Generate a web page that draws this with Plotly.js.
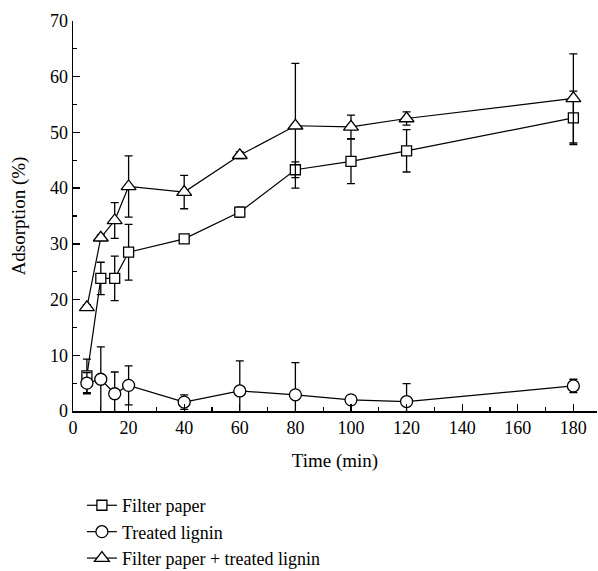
<!DOCTYPE html>
<html><head><meta charset="utf-8">
<script src="https://cdn.plot.ly/plotly-3.0.1.min.js"></script>
<style>body{margin:0;background:#fff}#c{width:598px;height:571px}</style>
</head><body><div id="c"></div>
<script>
const time = [5, 10, 15, 20, 40, 60, 80, 100, 120, 180];
const filterPaper = [6.3, 23.8, 23.8, 28.5, 30.9, 35.7, 43.3, 44.8, 46.7, 52.6];
const filterPaperErr = [3.0, 2.9, 4.0, 5.0, 0.5, 0.9, 1.4, 4.0, 3.8, 4.8];
const treatedLignin = [5.0, 5.7, 3.1, 4.6, 1.6, 3.6, 2.9, 2.0, 1.7, 4.5];
const treatedLigninErr = [1.9, 5.8, 3.9, 3.5, 1.3, 5.4, 5.8, 0.5, 3.2, 1.2];
const combined = [18.6, 31.1, 34.2, 40.3, 39.3, 45.9, 51.2, 51.0, 52.5, 56.1];
const combinedErr = [0.5, 0.5, 3.2, 5.5, 3.0, 0.6, 11.2, 2.1, 1.2, 8.0];
const names = ["Filter paper", "Treated lignin", "Filter paper + treated lignin"];
const xTicks = [0, 20, 40, 60, 80, 100, 120, 140, 160, 180];
const yTicks = [0, 10, 20, 30, 40, 50, 60, 70];

const font = "Liberation Serif, Times New Roman, serif";
function tr(y, err, name, sym, size) {
  return {
    x: time, y: y, name: name, type: "scatter", mode: "lines+markers",
    line: {color: "#000", width: 1.2},
    marker: {symbol: sym, size: size, color: "#fff", line: {color: "#000", width: 1.3}},
    error_y: {type: "data", array: err, visible: true, color: "#000", thickness: 1.3, width: 4}
  };
}
const data = [
  tr(filterPaper, filterPaperErr, names[0], "square", 10),
  tr(treatedLignin, treatedLigninErr, names[1], "circle", 12),
  tr(combined, combinedErr, names[2], "triangle-up", 13)
];

const layout = {
  width: 598, height: 571,
  margin: {l: 73, r: 1, t: 21, b: 160},
  paper_bgcolor: "#fff", plot_bgcolor: "#fff",
  font: {family: font, size: 18, color: "#000"},
  showlegend: true,
  legend: {x: 0.017, xanchor: "left", xref: "paper", y: 0.147, yanchor: "top", yref: "container",
    bgcolor: "rgba(0,0,0,0)",
    font: {family: font, size: 18, color: "#000"}, tracegroupgap: 0, itemwidth: 30},
  xaxis: {
    range: [0, 188.5], tickvals: xTicks, ticktext: xTicks.map(String),
    showline: true, linecolor: "#000", linewidth: 1.5, mirror: false,
    ticks: "inside", ticklen: 7, tickwidth: 1.3, tickcolor: "#000",
    showgrid: false, zeroline: false,
    minor: {dtick: 10, tick0: 0, ticks: "inside", ticklen: 4, tickwidth: 1.2, tickcolor: "#000", showgrid: false},
    tickfont: {family: font, size: 18, color: "#000"},
    title: {text: "Time (min)", font: {family: font, size: 19, color: "#000"}, standoff: 16}
  },
  yaxis: {
    range: [0, 70], tickvals: yTicks, ticktext: yTicks.map(String),
    showline: true, linecolor: "#000", linewidth: 1.5, mirror: false,
    ticks: "inside", ticklen: 7, tickwidth: 1.3, tickcolor: "#000",
    showgrid: false, zeroline: false,
    minor: {dtick: 5, tick0: 0, ticks: "inside", ticklen: 4, tickwidth: 1.2, tickcolor: "#000", showgrid: false},
    tickfont: {family: font, size: 18, color: "#000"},
    title: {text: "Adsorption (%)", font: {family: font, size: 19, color: "#000"}, standoff: 19}
  }
};
Plotly.newPlot("c", data, layout, {displayModeBar: false, staticPlot: true});
</script></body></html>
